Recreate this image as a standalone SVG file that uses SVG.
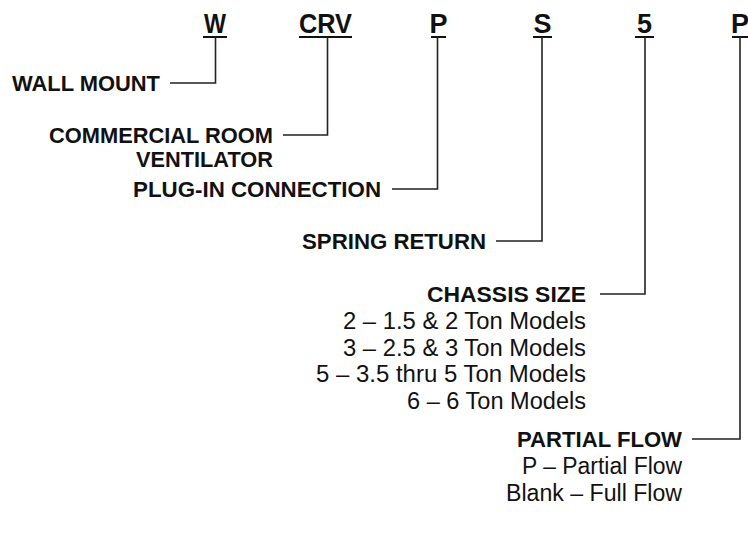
<svg xmlns="http://www.w3.org/2000/svg" width="748" height="537" viewBox="0 0 748 537">
<style>
.code{font-family:"Liberation Sans",Arial,sans-serif;font-weight:bold;font-size:27px;fill:#111;text-anchor:middle}
.lbl{font-family:"Liberation Sans",Arial,sans-serif;font-weight:bold;font-size:22.5px;fill:#111;text-anchor:end}
.opt{font-family:"Liberation Sans",Arial,sans-serif;font-size:23px;fill:#111;text-anchor:end}
.ul{stroke:#111;stroke-width:2}
.conn{fill:none;stroke:#222;stroke-width:1.6}
</style>
<rect width="748" height="537" fill="#fff"/>
<g id="codes">
<text class="code" x="215" y="33" textLength="22" lengthAdjust="spacingAndGlyphs">W</text>
<line class="ul" x1="203" y1="37" x2="227" y2="37"/>
<text class="code" x="325.5" y="33" textLength="53" lengthAdjust="spacingAndGlyphs">CRV</text>
<line class="ul" x1="299" y1="37" x2="352" y2="37"/>
<text class="code" x="438.5" y="33">P</text>
<line class="ul" x1="431" y1="37" x2="446" y2="37"/>
<text class="code" x="542.5" y="33">S</text>
<line class="ul" x1="533" y1="37" x2="552" y2="37"/>
<text class="code" x="644.5" y="33">5</text>
<line class="ul" x1="635" y1="37" x2="654" y2="37"/>
<text class="code" x="740" y="33">P</text>
<line class="ul" x1="732" y1="37" x2="748" y2="37"/>
</g>
<g id="connectors">
<polyline class="conn" points="170,83 215.5,83 215.5,37"/>
<polyline class="conn" points="283,135 327.5,135 327.5,37"/>
<polyline class="conn" points="392,189 437.5,189 437.5,37"/>
<polyline class="conn" points="496,241 542,241 542,37"/>
<polyline class="conn" points="600,294 645,294 645,37"/>
<polyline class="conn" points="692,439 740,439 740,37"/>
</g>
<g id="wall-mount"><text class="lbl" x="160" y="91" textLength="148" lengthAdjust="spacingAndGlyphs">WALL MOUNT</text></g>
<g id="crv">
<text class="lbl" x="273" y="143" textLength="224" lengthAdjust="spacingAndGlyphs">COMMERCIAL ROOM</text>
<text class="lbl" x="273" y="167" textLength="137" lengthAdjust="spacingAndGlyphs">VENTILATOR</text>
</g>
<g id="plug-in"><text class="lbl" x="381" y="197" textLength="248" lengthAdjust="spacingAndGlyphs">PLUG-IN CONNECTION</text></g>
<g id="spring-return"><text class="lbl" x="486" y="249" textLength="184" lengthAdjust="spacingAndGlyphs">SPRING RETURN</text></g>
<g id="chassis-size">
<text class="lbl" x="586" y="302" textLength="159" lengthAdjust="spacingAndGlyphs">CHASSIS SIZE</text>
<text class="opt" x="586" y="329" textLength="243" lengthAdjust="spacingAndGlyphs">2 – 1.5 &amp; 2 Ton Models</text>
<text class="opt" x="586" y="356" textLength="243" lengthAdjust="spacingAndGlyphs">3 – 2.5 &amp; 3 Ton Models</text>
<text class="opt" x="586" y="382" textLength="270" lengthAdjust="spacingAndGlyphs">5 – 3.5 thru 5 Ton Models</text>
<text class="opt" x="586" y="409" textLength="179" lengthAdjust="spacingAndGlyphs">6 – 6 Ton Models</text>
</g>
<g id="partial-flow">
<text class="lbl" x="682" y="447" textLength="165" lengthAdjust="spacingAndGlyphs">PARTIAL FLOW</text>
<text class="opt" x="682" y="474" textLength="160" lengthAdjust="spacingAndGlyphs">P – Partial Flow</text>
<text class="opt" x="682" y="501" textLength="176" lengthAdjust="spacingAndGlyphs">Blank – Full Flow</text>
</g>
</svg>
